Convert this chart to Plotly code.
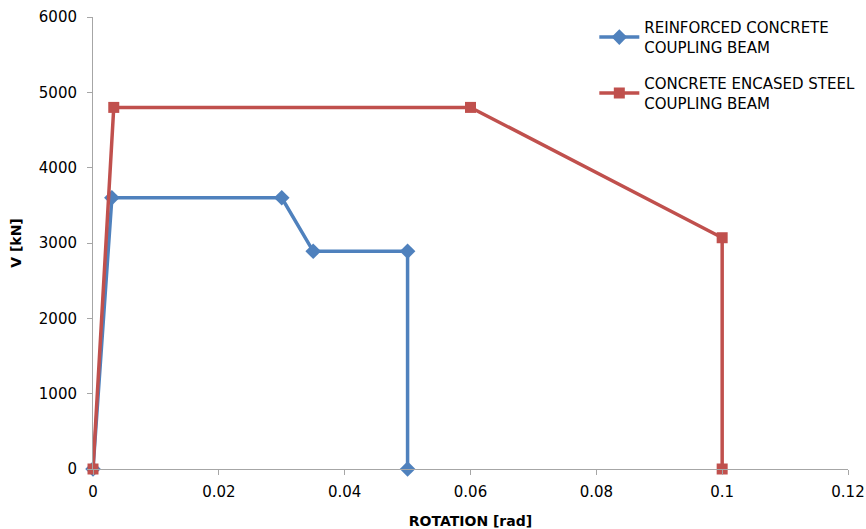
import plotly.graph_objects as go

rc_rotation = [0, 0.003, 0.03, 0.035, 0.05, 0.05]
rc_shear = [0, 3600, 3600, 2890, 2890, 0]
ces_rotation = [0, 0.0033, 0.06, 0.1, 0.1]
ces_shear = [0, 4800, 4800, 3070, 0]

x_ticks = [0, 0.02, 0.04, 0.06, 0.08, 0.1, 0.12]
x_tick_text = ["0", "0.02", "0.04", "0.06", "0.08", "0.1", "0.12"]
y_ticks = [0, 1000, 2000, 3000, 4000, 5000, 6000]

font_family = "DejaVu Sans"

fig = go.Figure()
fig.add_trace(go.Scatter(
    x=rc_rotation, y=rc_shear, mode="lines+markers",
    name="REINFORCED CONCRETE<br>COUPLING BEAM", legendgroup="rc",
    line=dict(color="#4F81BD", width=3.5),
    marker=dict(symbol="diamond", size=12, color="#4F81BD"),
    cliponaxis=False,
))
fig.add_trace(go.Scatter(
    x=ces_rotation, y=ces_shear, mode="lines+markers",
    name="CONCRETE ENCASED STEEL<br>COUPLING BEAM", legendgroup="ces",
    line=dict(color="#C0504D", width=3.5),
    marker=dict(symbol="square", size=11, color="#C0504D"),
    cliponaxis=False,
))

fig.update_layout(
    width=866, height=529,
    margin=dict(l=93, r=18, t=17, b=60, autoexpand=False),
    paper_bgcolor="white", plot_bgcolor="white",
    font=dict(family=font_family, size=15, color="black"),
    showlegend=True,
    legend=dict(x=0.664, y=1.013, xanchor="left", yanchor="top",
                font=dict(size=15), bgcolor="rgba(0,0,0,0)",
                tracegroupgap=14, itemwidth=40),
    xaxis=dict(
        range=[0, 0.12], tickvals=x_ticks, ticktext=x_tick_text,
        showgrid=False, zeroline=False, showline=True, linecolor="#A6A6A6",
        ticks="outside", ticklen=5, tickcolor="#A6A6A6", automargin=False,
        ticklabelstandoff=4, ticklabeloverflow="allow",
        title=dict(text="<b>ROTATION [rad]</b>", standoff=22, font=dict(size=14)),
    ),
    yaxis=dict(
        range=[0, 6000], tickvals=y_ticks,
        showgrid=False, zeroline=False, showline=True, linecolor="#A6A6A6",
        ticks="outside", ticklen=5, tickcolor="#A6A6A6", automargin=False,
        ticklabelstandoff=7,
        title=dict(text="<b>V [kN]</b>", standoff=13, font=dict(size=14)),
    ),
)

# remove the browser's default 8px body margin so the figure fills the window
fig.write_html("out.html",
               config={"displayModeBar": False},
               post_script="document.body.style.margin='0';document.body.style.overflow='hidden';")
